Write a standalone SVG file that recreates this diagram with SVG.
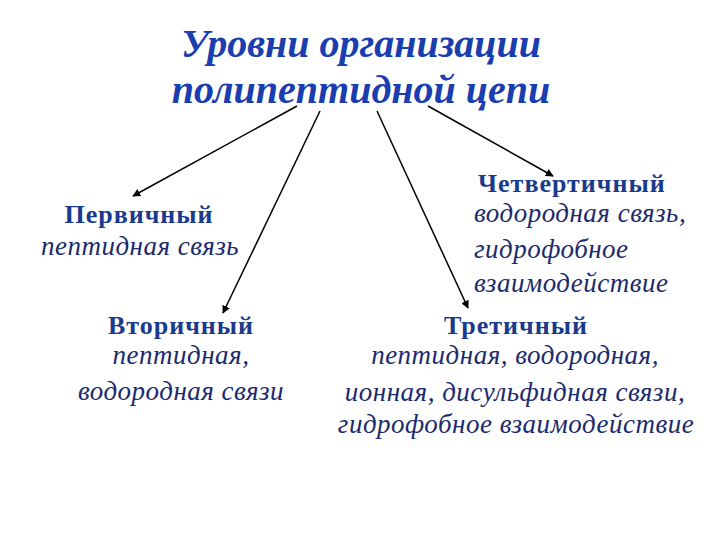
<svg xmlns="http://www.w3.org/2000/svg" width="720" height="540" viewBox="0 0 720 540">
<defs>
<marker id="ah" viewBox="0 0 10 10" refX="9" refY="5" markerWidth="8" markerHeight="8" markerUnits="userSpaceOnUse" orient="auto">
<path d="M0,0 L10,5 L0,10 z" fill="#000"/>
</marker>
</defs>
<style>
.title{font-family:"Liberation Serif",serif;font-weight:bold;font-style:italic;font-size:40px;fill:#1a3db0;text-anchor:middle}
.head{font-family:"Liberation Serif",serif;font-weight:bold;font-size:26px;letter-spacing:1px;fill:#1a3a8c}
.sub{font-family:"Liberation Serif",serif;font-style:italic;font-size:27px;letter-spacing:0.5px;fill:#1c2a6e}
.c{text-anchor:middle}
.conn line{stroke:#000;stroke-width:1.5;marker-end:url(#ah)}
</style>
<rect width="720" height="540" fill="#fff"/>
<g id="title">
<text class="title" x="361" y="57">Уровни организации</text>
<text class="title" x="361" y="103">полипептидной цепи</text>
</g>
<g class="conn" id="connectors">
<line x1="297" y1="106" x2="133" y2="196"/>
<line x1="320" y1="111" x2="223" y2="313"/>
<line x1="377" y1="111" x2="468" y2="308"/>
<line x1="428" y1="106" x2="553" y2="176"/>
</g>
<g id="primary">
<text class="head c" x="139" y="223">Первичный</text>
<text class="sub c" x="140" y="255">пептидная связь</text>
</g>
<g id="secondary">
<text class="head c" x="181" y="334">Вторичный</text>
<text class="sub c" x="181" y="364">пептидная,</text>
<text class="sub c" x="181" y="400">водородная связи</text>
</g>
<g id="quaternary">
<text class="head" x="478" y="192">Четвертичный</text>
<text class="sub" x="474" y="222">водородная связь,</text>
<text class="sub" x="474" y="258">гидрофобное</text>
<text class="sub" x="474" y="292">взаимодействие</text>
</g>
<g id="tertiary">
<text class="head c" x="516" y="334">Третичный</text>
<text class="sub c" x="515" y="364">пептидная, водородная,</text>
<text class="sub c" x="515" y="401">ионная, дисульфидная связи,</text>
<text class="sub c" x="516" y="433">гидрофобное взаимодействие</text>
</g>
</svg>
